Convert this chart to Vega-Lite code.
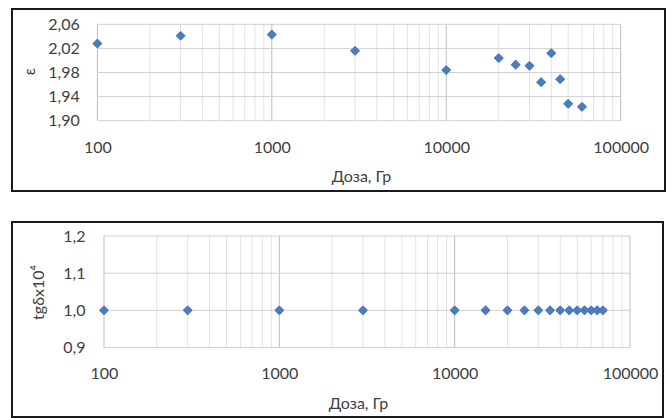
{
  "$schema": "https://vega.github.io/schema/vega-lite/v6.json",
  "padding": {"top": 8, "left": 11, "right": 0, "bottom": 0},
  "spacing": 29,
  "config": {
    "view": {"stroke": "#1a1a1a", "strokeWidth": 2},
    "font": "Lato",
    "axis": {"domain": false, "ticks": false, "grid": false, "labelFont": "Lato", "labelFontSize": 16, "labelColor": "#404040", "titleFont": "Lato", "titleFontSize": 16, "titleFontWeight": "normal", "titleColor": "#404040"}
  },
  "datasets": {
    "eps": [
      {"dose": 100, "eps": 2.028},
      {"dose": 300, "eps": 2.041},
      {"dose": 1000, "eps": 2.043},
      {"dose": 3000, "eps": 2.016},
      {"dose": 10000, "eps": 1.984},
      {"dose": 20000, "eps": 2.004},
      {"dose": 25000, "eps": 1.993},
      {"dose": 30000, "eps": 1.991},
      {"dose": 35000, "eps": 1.964},
      {"dose": 40000, "eps": 2.012},
      {"dose": 45000, "eps": 1.969},
      {"dose": 50000, "eps": 1.928},
      {"dose": 60000, "eps": 1.923}
    ],
    "tg": [
      {"dose": 100, "tg": 1.0},
      {"dose": 300, "tg": 1.0},
      {"dose": 1000, "tg": 1.0},
      {"dose": 3000, "tg": 1.0},
      {"dose": 10000, "tg": 1.0},
      {"dose": 15000, "tg": 1.0},
      {"dose": 20000, "tg": 1.0},
      {"dose": 25000, "tg": 1.0},
      {"dose": 30000, "tg": 1.0},
      {"dose": 35000, "tg": 1.0},
      {"dose": 40000, "tg": 1.0},
      {"dose": 45000, "tg": 1.0},
      {"dose": 50000, "tg": 1.0},
      {"dose": 55000, "tg": 1.0},
      {"dose": 60000, "tg": 1.0},
      {"dose": 65000, "tg": 1.0},
      {"dose": 70000, "tg": 1.0}
    ],
    "xmajor": [{"v": 100}, {"v": 1000}, {"v": 10000}, {"v": 100000}],
    "xminor": [
      {"v": 200}, {"v": 300}, {"v": 400}, {"v": 500}, {"v": 600}, {"v": 700}, {"v": 800}, {"v": 900},
      {"v": 2000}, {"v": 3000}, {"v": 4000}, {"v": 5000}, {"v": 6000}, {"v": 7000}, {"v": 8000}, {"v": 9000},
      {"v": 20000}, {"v": 30000}, {"v": 40000}, {"v": 50000}, {"v": 60000}, {"v": 70000}, {"v": 80000}, {"v": 90000}
    ],
    "ygridTop": [{"v": 1.90}, {"v": 1.94}, {"v": 1.98}, {"v": 2.02}, {"v": 2.06}],
    "ygridBot": [{"v": 0.9}, {"v": 1.0}, {"v": 1.1}, {"v": 1.2}]
  },
  "vconcat": [
    {
      "width": 653,
      "height": 182,
      "layer": [
        {
          "data": {"name": "eps"},
          "mark": {"type": "point", "shape": "diamond", "filled": true, "size": 95, "color": "#4a7dba", "opacity": 1},
          "encoding": {
            "x": {
              "field": "dose", "type": "quantitative",
              "scale": {"type": "log", "domain": [32.4, 179500], "nice": false},
              "axis": {"orient": "bottom", "offset": -70.3, "values": [100, 1000, 10000, 100000], "format": "d", "labelPadding": 19, "title": "Доза, Гр", "titleX": 349, "titleY": 56, "titleBaseline": "middle", "titleAlign": "center"}
            },
            "y": {
              "field": "eps", "type": "quantitative",
              "scale": {"domain": [1.7833, 2.0854], "nice": false, "zero": false},
              "axis": {"orient": "left", "offset": -85.3, "values": [1.90, 1.94, 1.98, 2.02, 2.06], "labelExpr": "replace(format(datum.value, '.2f'), '.', ',')", "labelPadding": 18, "title": "ε", "titleX": -68, "titleY": 62, "titleAngle": -90, "titleAlign": "center", "titleBaseline": "middle"}
            }
          }
        },
        {
          "data": {"name": "xminor"},
          "mark": {"type": "rule", "color": "#e2e2e2", "strokeWidth": 1},
          "encoding": {
            "x": {"field": "v", "type": "quantitative"},
            "y": {"datum": 1.90, "type": "quantitative"},
            "y2": {"datum": 2.06}
          }
        },
        {
          "data": {"name": "xmajor"},
          "mark": {"type": "rule", "color": "#bdbdbd", "strokeWidth": 1},
          "encoding": {
            "x": {"field": "v", "type": "quantitative"},
            "y": {"datum": 1.90, "type": "quantitative"},
            "y2": {"datum": 2.06}
          }
        },
        {
          "data": {"name": "ygridTop"},
          "mark": {"type": "rule", "color": "#d0d0d0", "strokeWidth": 1},
          "encoding": {
            "y": {"field": "v", "type": "quantitative"},
            "x": {"datum": 100, "type": "quantitative"},
            "x2": {"datum": 100000}
          }
        },
        {
          "data": {"name": "eps"},
          "mark": {"type": "point", "shape": "diamond", "filled": true, "size": 95, "color": "#4a7dba", "opacity": 1},
          "encoding": {
            "x": {"field": "dose", "type": "quantitative"},
            "y": {"field": "eps", "type": "quantitative"}
          }
        }
      ]
    },
    {
      "width": 651,
      "height": 195,
      "layer": [
        {
          "data": {"name": "tg"},
          "mark": {"type": "point", "shape": "diamond", "filled": true, "size": 95, "color": "#4a7dba", "opacity": 1},
          "encoding": {
            "x": {
              "field": "dose", "type": "quantitative",
              "scale": {"type": "log", "domain": [29.88, 154240], "nice": false},
              "axis": {"orient": "bottom", "offset": -69.5, "values": [100, 1000, 10000, 100000], "format": "d", "labelPadding": 18, "title": "Доза, Гр", "titleX": 346, "titleY": 55.5, "titleBaseline": "middle", "titleAlign": "center"}
            },
            "y": {
              "field": "tg", "type": "quantitative",
              "scale": {"domain": [0.713, 1.2377], "nice": false, "zero": false},
              "axis": {"orient": "left", "offset": -92, "values": [0.9, 1.0, 1.1, 1.2], "labelExpr": "replace(format(datum.value, '.1f'), '.', ',')", "labelPadding": 19, "title": "tgδx10⁴", "titleX": -66, "titleY": 70, "titleAngle": -90, "titleAlign": "center", "titleBaseline": "middle"}
            }
          }
        },
        {
          "data": {"name": "xminor"},
          "mark": {"type": "rule", "color": "#e2e2e2", "strokeWidth": 1},
          "encoding": {
            "x": {"field": "v", "type": "quantitative"},
            "y": {"datum": 0.9, "type": "quantitative"},
            "y2": {"datum": 1.2}
          }
        },
        {
          "data": {"name": "xmajor"},
          "mark": {"type": "rule", "color": "#bdbdbd", "strokeWidth": 1},
          "encoding": {
            "x": {"field": "v", "type": "quantitative"},
            "y": {"datum": 0.9, "type": "quantitative"},
            "y2": {"datum": 1.2}
          }
        },
        {
          "data": {"name": "ygridBot"},
          "mark": {"type": "rule", "color": "#d0d0d0", "strokeWidth": 1},
          "encoding": {
            "y": {"field": "v", "type": "quantitative"},
            "x": {"datum": 100, "type": "quantitative"},
            "x2": {"datum": 100000}
          }
        },
        {
          "data": {"name": "tg"},
          "mark": {"type": "point", "shape": "diamond", "filled": true, "size": 95, "color": "#4a7dba", "opacity": 1},
          "encoding": {
            "x": {"field": "dose", "type": "quantitative"},
            "y": {"field": "tg", "type": "quantitative"}
          }
        }
      ]
    }
  ]
}
